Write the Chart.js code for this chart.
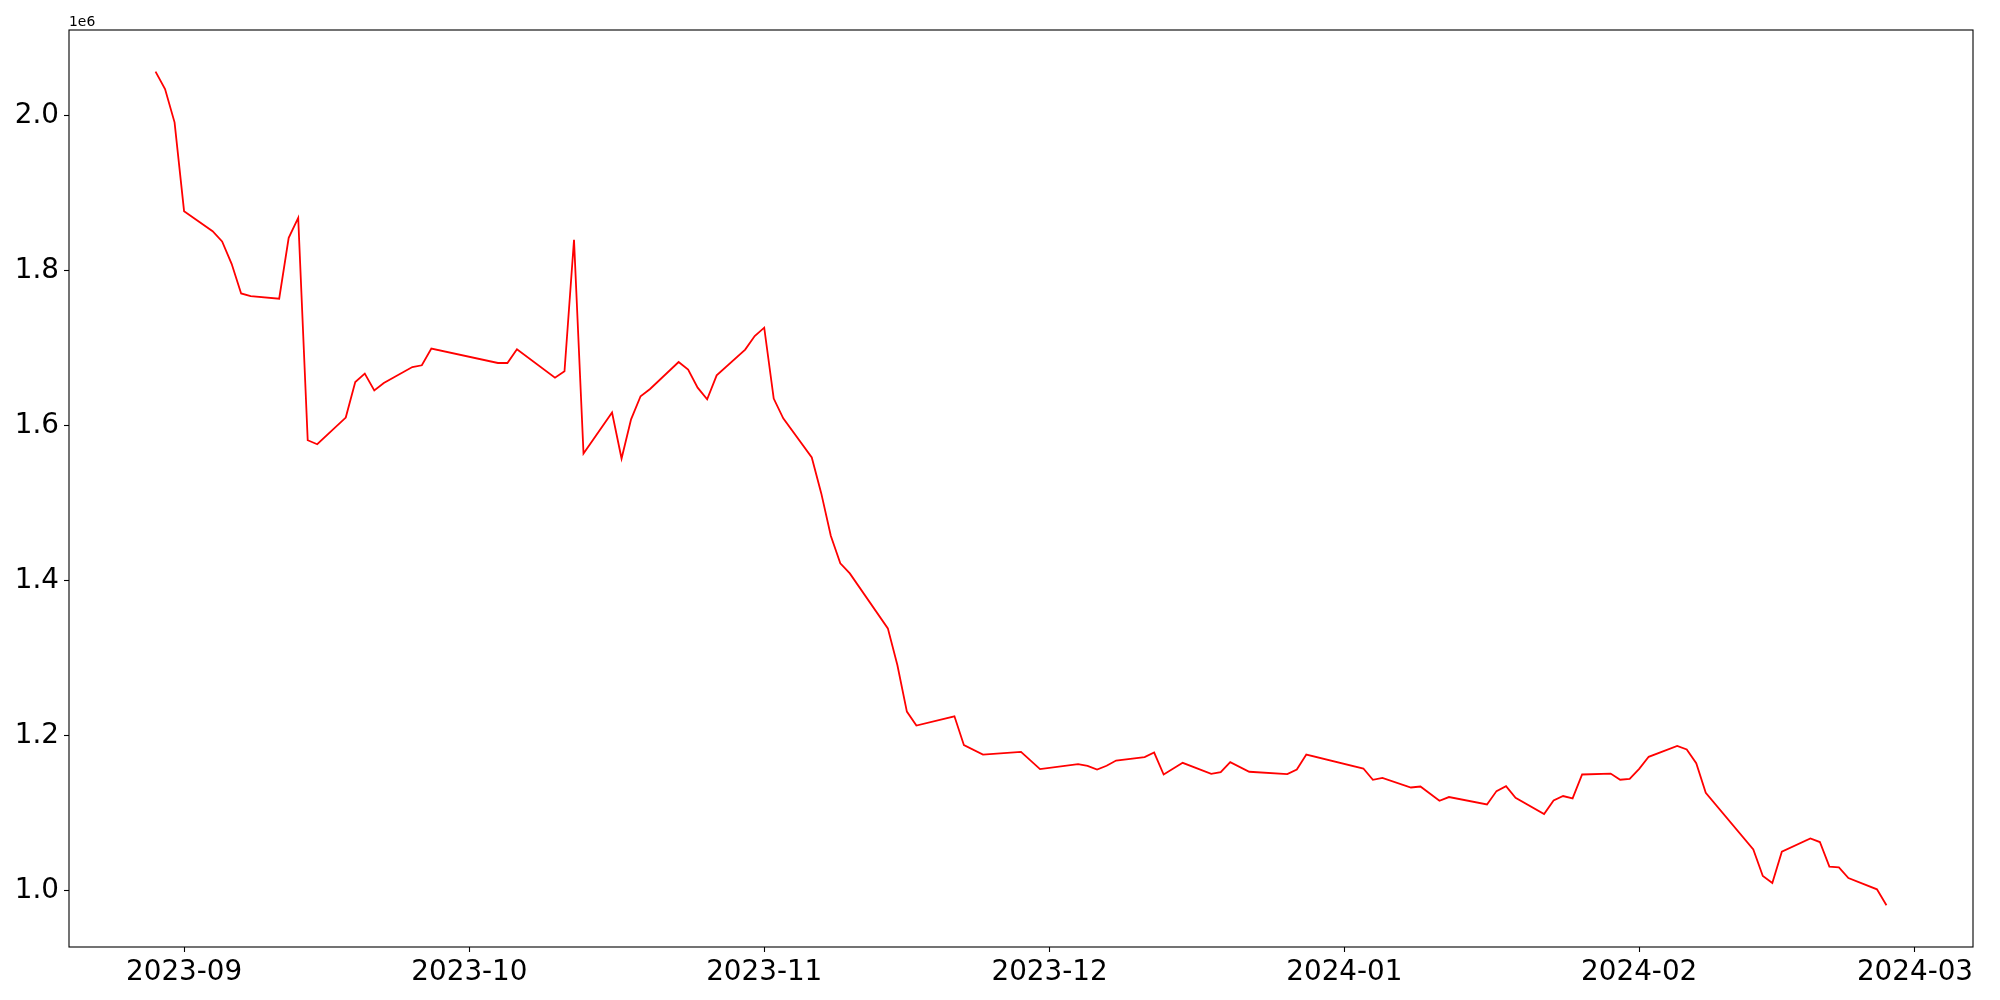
<!DOCTYPE html>
<html>
<head>
<meta charset="utf-8">
<script src="https://cdn.jsdelivr.net/npm/chart.js@4.4.0/dist/chart.umd.min.js"></script>
<style>
  body { margin: 0; background: #fff; }
  #wrap { width: 2000px; height: 1000px; }
</style>
</head>
<body>
<div id="wrap"><canvas id="priceChart"></canvas></div>
<script>
// dates of each point (trading days)
var dates = [
  '2023-08-29','2023-08-30','2023-08-31','2023-09-01','2023-09-04','2023-09-05','2023-09-06','2023-09-07','2023-09-08',
  '2023-09-11','2023-09-12','2023-09-13','2023-09-14','2023-09-15','2023-09-18','2023-09-19','2023-09-20','2023-09-21',
  '2023-09-22','2023-09-25','2023-09-26','2023-09-27','2023-10-04','2023-10-05','2023-10-06','2023-10-10','2023-10-11',
  '2023-10-12','2023-10-13','2023-10-16','2023-10-17','2023-10-18','2023-10-19','2023-10-20','2023-10-23','2023-10-24',
  '2023-10-25','2023-10-26','2023-10-27','2023-10-30','2023-10-31','2023-11-01','2023-11-02','2023-11-03','2023-11-06',
  '2023-11-07','2023-11-08','2023-11-09','2023-11-10','2023-11-14','2023-11-15','2023-11-16','2023-11-17','2023-11-21',
  '2023-11-22','2023-11-24','2023-11-28','2023-11-30','2023-12-04','2023-12-05','2023-12-06','2023-12-07','2023-12-08',
  '2023-12-11','2023-12-12','2023-12-13','2023-12-15','2023-12-18','2023-12-19','2023-12-20','2023-12-22','2023-12-26',
  '2023-12-27','2023-12-28','2024-01-03','2024-01-04','2024-01-05','2024-01-08','2024-01-09','2024-01-11','2024-01-12',
  '2024-01-16','2024-01-17','2024-01-18','2024-01-19','2024-01-22','2024-01-23','2024-01-24','2024-01-25','2024-01-26',
  '2024-01-29','2024-01-30','2024-01-31','2024-02-01','2024-02-02','2024-02-05','2024-02-06','2024-02-07','2024-02-08',
  '2024-02-13','2024-02-14','2024-02-15','2024-02-16','2024-02-19','2024-02-20','2024-02-21','2024-02-22','2024-02-23',
  '2024-02-26','2024-02-27'
];

// value for each date
var values = [
  2056400, 2034100, 1991100, 1876500, 1850700, 1837500, 1808700, 1770500, 1767000,
  1763700, 1842200, 1868000, 1581200, 1576000, 1610400, 1656300, 1667100, 1645400,
  1655000, 1675600, 1677800, 1699300, 1680800, 1680800, 1698400, 1661900, 1670000,
  1839700, 1564100, 1616900, 1557600, 1608200, 1637900, 1647300, 1682000, 1672200,
  1649000, 1634000, 1664900, 1698000, 1715500, 1726300, 1634900, 1609500, 1558900,
  1512600, 1458000, 1422400, 1409500, 1338600, 1291400, 1231300, 1213300, 1225200,
  1188000, 1175900, 1179400, 1157100, 1163600, 1161400, 1156600, 1161400, 1168200,
  1172600, 1178500, 1150200, 1165200, 1151100, 1153300, 1166100, 1153700, 1150700,
  1156600, 1175900, 1157900, 1143400, 1145900, 1133400, 1134700, 1116300, 1121100,
  1111500, 1128800, 1135200, 1120200, 1099200, 1116700, 1122400, 1119300, 1150200,
  1151400, 1143400, 1144600, 1157500, 1173000, 1187100, 1182400, 1164800, 1126600,
  1053600, 1019300, 1010300, 1050600, 1067700, 1063100, 1031300, 1030400, 1016700,
  1002100, 981500
];

// tick positions and labels
var monthTicks = ['2023-09-01','2023-10-01','2023-11-01','2023-12-01','2024-01-01','2024-02-01','2024-03-01'];
var monthLabels = ['2023-09','2023-10','2023-11','2023-12','2024-01','2024-02','2024-03'];
var yTicks = [1000000, 1200000, 1400000, 1600000, 1800000, 2000000];

function toDay(s) {
  var p = s.split('-');
  return Date.UTC(+p[0], +p[1] - 1, +p[2]) / 86400000;
}

var points = dates.map(function (d, i) { return { x: toDay(d), y: values[i] }; });
var tickDays = monthTicks.map(toDay);

// matplotlib style 5% margins
var xMin = toDay(dates[0]), xMax = toDay(dates[dates.length - 1]);
var xPad = (xMax - xMin) * 0.05;
var yMin = Math.min.apply(null, values), yMax = Math.max.apply(null, values);
var yPad = (yMax - yMin) * 0.05;

Chart.defaults.color = '#000';
Chart.defaults.font.family = 'DejaVu Sans';

// frame around plot + offset text
var framePlugin = {
  id: 'frame',
  afterDraw: function (chart) {
    var ctx = chart.ctx, a = chart.chartArea;
    ctx.save();
    ctx.strokeStyle = '#000';
    ctx.lineWidth = 1.1;
    ctx.strokeRect(a.left, a.top, a.right - a.left, a.bottom - a.top);
    ctx.fillStyle = '#000';
    ctx.font = '13.9px "DejaVu Sans"';
    ctx.textAlign = 'left';
    ctx.textBaseline = 'alphabetic';
    ctx.fillText('1e6', a.left, a.top - 4);
    ctx.restore();
  }
};

var ctx = document.getElementById('priceChart').getContext('2d');
var chart = new Chart(ctx, {
  type: 'line',
  data: {
    datasets: [{
      data: points,
      borderColor: '#ff0000',
      borderWidth: 1.8,
      pointRadius: 0,
      tension: 0,
      fill: false
    }]
  },
  options: {
    responsive: true,
    maintainAspectRatio: false,
    animation: false,
    devicePixelRatio: 1,
    layout: { padding: { top: 30, right: 27, left: 0, bottom: 0 } },
    plugins: { legend: { display: false }, tooltip: { enabled: false } },
    scales: {
      x: {
        type: 'linear',
        min: xMin - xPad,
        max: xMax + xPad,
        border: { display: false },
        grid: { drawOnChartArea: false, drawTicks: true, tickLength: 5, tickWidth: 1.1, tickColor: '#000' },
        afterBuildTicks: function (scale) {
          scale.ticks = tickDays.map(function (v) { return { value: v }; });
        },
        afterFit: function (scale) { scale.height = 53; },
        ticks: {
          autoSkip: false,
          maxRotation: 0,
          padding: 4,
          font: { size: 27.8 },
          callback: function (v) {
            var i = tickDays.indexOf(v);
            return i >= 0 ? monthLabels[i] : '';
          }
        }
      },
      y: {
        type: 'linear',
        min: yMin - yPad,
        max: yMax + yPad,
        border: { display: false },
        grid: { drawOnChartArea: false, drawTicks: true, tickLength: 5, tickWidth: 1.1, tickColor: '#000' },
        afterBuildTicks: function (scale) {
          scale.ticks = yTicks.map(function (v) { return { value: v }; });
        },
        afterFit: function (scale) { scale.width = 69; },
        ticks: {
          padding: 5,
          font: { size: 27.8 },
          callback: function (v) { return (v / 1e6).toFixed(1); }
        }
      }
    }
  },
  plugins: [framePlugin]
});
</script>
</body>
</html>
